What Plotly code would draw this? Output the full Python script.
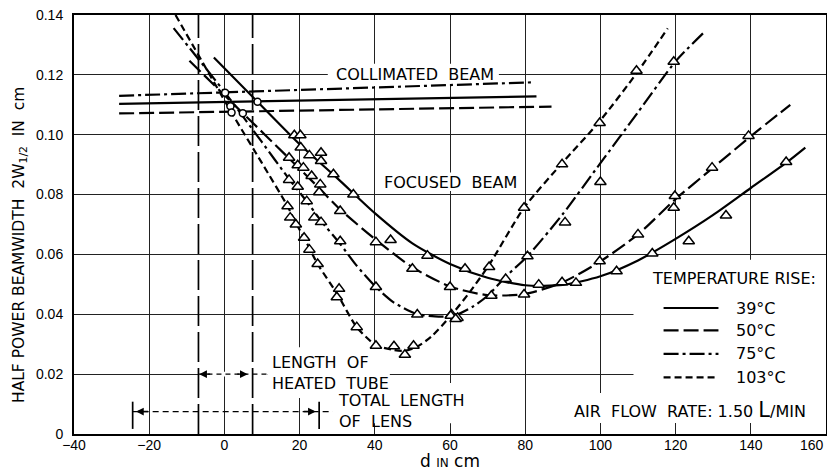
import plotly.graph_objects as go

# ---------------- data ----------------
x_ticks = [-40, -20, 0, 20, 40, 60, 80, 100, 120, 140, 160]
x_tick_labels = ["\u221240", "\u221220", "0", "20", "40", "60", "80", "100", "120", "140", ""]
x_last_label = "160"
y_ticks = [0, 0.02, 0.04, 0.06, 0.08, 0.10, 0.12, 0.14]
y_tick_labels = ["0", "0.02", "0.04", "0.06", "0.08", "0.10", "0.12", "0.14"]

# collimated beam lines
col_dashdot_x = [-28, 82]
col_dashdot_y = [0.1130, 0.1175]
col_solid_x = [-28, 83]
col_solid_y = [0.1103, 0.1128]
col_dash_x = [-28, 87]
col_dash_y = [0.1071, 0.1094]

# lens exit points (circles)
circ_x = [0.2, 1.6, 1.9, 4.9, 8.8]
circ_y = [0.1140, 0.1095, 0.1074, 0.1072, 0.1110]

# 39 C (solid)
c39_x = [-2.8, 8.8, 20, 30, 40, 50, 60, 70, 80, 90, 100, 110, 120, 130, 140, 150, 154.5]
c39_y = [0.1258, 0.1110, 0.0968, 0.0855, 0.0738, 0.0637, 0.0568, 0.0522, 0.0497, 0.0498,
         0.0527, 0.0580, 0.0652, 0.0732, 0.0822, 0.0912, 0.0957]
t39_x = [18.6, 20.2, 20.3, 22.6, 25.7, 25.7, 29.0, 34.3, 54.0, 64.0, 83.6, 93.5, 104.3,
         113.8, 123.5, 133.4, 149.4]
t39_y = [0.0998, 0.0998, 0.0957, 0.0931, 0.0940, 0.0912, 0.0868, 0.0800, 0.0596, 0.0552,
         0.0499, 0.0505, 0.0544, 0.0603, 0.0644, 0.0730, 0.0909]

# 50 C (long dash)
c50_x = [-9.3, 4.9, 17.2, 25.0, 30.8, 40.0, 50.0, 60.0, 70.0, 80.0, 90.0, 100.0, 110.0,
         120.0, 130.0, 140.0, 150.5]
c50_y = [0.1247, 0.1072, 0.0921, 0.0824, 0.0750, 0.0652, 0.0557, 0.0493, 0.0464, 0.0468,
         0.0507, 0.0577, 0.0667, 0.0785, 0.0890, 0.0995, 0.1100]
t50_x = [17.2, 19.5, 21.0, 23.2, 25.5, 25.2, 30.8, 40.3, 44.2, 50.0, 60.0, 71.0, 79.7,
         89.8, 99.8, 110.0, 119.5, 119.8, 129.7, 139.4]
t50_y = [0.0923, 0.0898, 0.0890, 0.0862, 0.0834, 0.0808, 0.0745, 0.0641, 0.0648, 0.0552,
         0.0491, 0.0462, 0.0466, 0.0507, 0.0577, 0.0667, 0.0756, 0.0795, 0.0890, 0.0996]

# 75 C (dash-dot)
c75_x = [-13.5, 0.2, 10.0, 17.2, 21.9, 25.7, 30.8, 35.0, 40.3, 45.0, 51.0, 56.0, 61.0,
         66.0, 70.0, 75.0, 80.6, 90.0, 100.0, 110.0, 120.0, 127.3]
c75_y = [0.1356, 0.1140, 0.0975, 0.0852, 0.0777, 0.0712, 0.0635, 0.0565, 0.0491, 0.0440,
         0.0402, 0.0393, 0.0395, 0.0425, 0.0462, 0.0528, 0.0594, 0.0735, 0.0905, 0.1075,
         0.1245, 0.1339]
t75_x = [17.2, 19.5, 21.9, 23.9, 25.7, 30.8, 40.3, 51.3, 60.4, 62.0, 74.8, 80.6, 90.6,
         100.0, 119.5]
t75_y = [0.0849, 0.0826, 0.0778, 0.0723, 0.0708, 0.0644, 0.0491, 0.0399, 0.0399, 0.0388,
         0.0518, 0.0594, 0.0707, 0.0842, 0.1244]

# 103 C (short dash)
c103_x = [-13.0, 1.9, 10.0, 16.8, 19.0, 21.2, 24.8, 30.0, 35.2, 40.3, 45.0, 48.0, 51.0,
          55.0, 60.2, 65.0, 70.4, 79.7, 89.8, 99.8, 109.6, 117.9]
c103_y = [0.1400, 0.1074, 0.0905, 0.0761, 0.0705, 0.0656, 0.0568, 0.0468, 0.0357, 0.0297,
          0.0281, 0.0278, 0.0290, 0.0325, 0.0395, 0.0470, 0.0565, 0.0756, 0.0905, 0.1045,
          0.1205, 0.1355]
t103_x = [16.8, 17.5, 19.0, 21.2, 22.6, 24.8, 30.5, 29.9, 35.2, 40.3, 45.1, 48.0, 50.3,
          60.2, 61.5, 70.4, 79.7, 89.8, 99.8, 109.6]
t103_y = [0.0761, 0.0723, 0.0700, 0.0656, 0.0616, 0.0568, 0.0485, 0.0457, 0.0357, 0.0295,
          0.0293, 0.0265, 0.0295, 0.0395, 0.0384, 0.0558, 0.0756, 0.0901, 0.1039, 0.1214]

# heated tube and lens extents (cm)
heated_tube = [-6.9, 7.5]
lens = [-24.4, 25.2]

legend_labels = ["39\u00b0C", "50\u00b0C", "75\u00b0C", "103\u00b0C"]
legend_rows = [0.0421, 0.0346, 0.0268, 0.0189]

# ---------------- styles ----------------
FONT = "DejaVu Sans"
TICKFONT = "Liberation Sans"
TS = 16
DASH_39 = "solid"
DASH_50 = "15px,5px"
DASH_75 = "15px,4px,3px,4px"
DASH_103 = "7px,4px"

fig = go.Figure()


def add_line(x, y, dash, width=2.2, spline=True):
    fig.add_trace(go.Scatter(
        x=x, y=y, mode="lines",
        line=dict(color="black", width=width, dash=dash,
                  shape="spline" if spline else "linear", smoothing=0.7),
        hoverinfo="skip", showlegend=False))


def add_markers(x, y, symbol, size):
    fig.add_trace(go.Scatter(
        x=x, y=y, mode="markers",
        marker=dict(symbol=symbol, size=size, color="white",
                    line=dict(color="black", width=1.5)),
        hoverinfo="skip", showlegend=False))


# heated tube boundaries (full-height long-dash verticals)
for xv in heated_tube:
    add_line([xv, xv], [0, 0.14], "30px,6px", width=1.7, spline=False)

# lens boundary bars
for xv in lens:
    add_line([xv, xv], [0.0017, 0.0108], "solid", width=1.7, spline=False)

# dimension lines
add_line([heated_tube[0], 11.5], [0.02, 0.02], "5px,4px", width=1.3, spline=False)
add_line([lens[0], 28.8], [0.0075, 0.0075], "6px,4px", width=1.3, spline=False)

# collimated beam
add_line(col_dashdot_x, col_dashdot_y, DASH_75, spline=False)
add_line(col_solid_x, col_solid_y, DASH_39, spline=False)
add_line(col_dash_x, col_dash_y, DASH_50, spline=False)

# focused beam curves
add_line(c39_x, c39_y, DASH_39)
add_line(c50_x, c50_y, DASH_50)
add_line(c75_x, c75_y, DASH_75)
add_line(c103_x, c103_y, DASH_103)

# markers
add_markers(t39_x, t39_y, "triangle-up", 10)
add_markers(t50_x, t50_y, "triangle-up", 10)
add_markers(t75_x, t75_y, "triangle-up", 10)
add_markers(t103_x, t103_y, "triangle-up", 10)
add_markers(circ_x, circ_y, "circle", 7)

# legend samples
for dash, yrow in zip([DASH_39, DASH_50, DASH_75, DASH_103], legend_rows):
    add_line([116.8, 131.4], [yrow, yrow], dash, spline=False)

annotations = []


def text(x, y, s, xanchor="center", size=TS, align="center"):
    annotations.append(dict(x=x, y=y, xref="x", yref="y", text=s, showarrow=False,
                            xanchor=xanchor, yanchor="middle", align=align,
                            font=dict(family=FONT, size=size, color="black")))


text(50.6, 0.1200, "COLLIMATED&nbsp;&nbsp;BEAM")
text(60.2, 0.0842, "FOCUSED&nbsp;&nbsp;BEAM")
text(12.2, 0.0203, "LENGTH&nbsp;&nbsp;OF<br>HEATED&nbsp;&nbsp;TUBE", xanchor="left", align="left")
text(29.8, 0.0076, "TOTAL&nbsp;&nbsp;LENGTH<br>OF&nbsp;&nbsp;LENS", xanchor="left", align="left")
text(135.6, 0.0518, "TEMPERATURE&nbsp;RISE:")
for yrow, lab in zip(legend_rows, legend_labels):
    text(135.4, yrow, lab, xanchor="left")
text(123.7, 0.0080, "AIR&nbsp;&nbsp;FLOW&nbsp;&nbsp;RATE:&nbsp;1.50&nbsp;<span style='font-size:21px'>L</span>/MIN")


# arrowheads
def arrowhead(tip, base, y):
    annotations.append(dict(x=tip, y=y, ax=base, ay=y, xref="x", yref="y", axref="x", ayref="y",
                            text="", showarrow=True, arrowhead=2, arrowsize=1.1,
                            arrowwidth=1.4, arrowcolor="black", standoff=0))


arrowhead(heated_tube[0] + 0.2, heated_tube[0] + 3.5, 0.02)
arrowhead(heated_tube[1] - 1.3, heated_tube[1] - 4.5, 0.02)
arrowhead(lens[0] + 0.9, lens[0] + 4.5, 0.0075)
arrowhead(lens[1] - 0.9, lens[1] - 4.5, 0.0075)

# axis titles
annotations.append(dict(x=-0.087, y=0.45, xref="paper", yref="paper", showarrow=False,
                        text="HALF&nbsp;POWER&nbsp;BEAMWIDTH&nbsp;&nbsp;2W<sub>1/2</sub>&nbsp;&nbsp;IN&nbsp;&nbsp;cm",
                        textangle=-90, font=dict(family=FONT, size=15.5, color="black")))
annotations.append(dict(x=0.5, y=-0.036, xref="paper", yref="paper", showarrow=False,
                        yanchor="top",
                        text="d <span style='font-size:12px'>IN</span> cm",
                        font=dict(family=FONT, size=17, color="black")))
annotations.append(dict(x=1.0, y=-0.027, xref="paper", yref="paper", showarrow=False,
                        xanchor="right", yanchor="middle", text=x_last_label,
                        font=dict(family=TICKFONT, size=14, color="black")))

# white masks over the grid where text/legend sits
masks = [
    (27.5, 73.0, 0.1163, 0.1237),
    (41.5, 79.0, 0.0812, 0.0874),
    (11.5, 44.0, 0.0120, 0.0290),
    (heated_tube[0], 11.5, 0.0192, 0.0208),
    (29.0, 64.0, 0.0036, 0.0170),
    (108.8, 160.0, 0.0037, 0.0582),
    (91.5, 160.0, 0.0037, 0.0137),
]
shapes = [dict(type="rect", xref="x", yref="y", x0=a, x1=b, y0=c, y1=d,
               fillcolor="white", line=dict(width=0), layer="between") for a, b, c, d in masks]

fig.update_layout(
    width=827, height=470,
    margin=dict(l=74, r=1, t=15, b=36, autoexpand=False),
    paper_bgcolor="white", plot_bgcolor="white",
    annotations=annotations, shapes=shapes,
    font=dict(family=FONT, size=TS, color="black"),
    xaxis=dict(range=[-40, 160], tickvals=x_ticks, ticktext=x_tick_labels, automargin=False,
               showgrid=True, gridcolor="#222", gridwidth=1, zeroline=False,
               showline=True, linecolor="black", linewidth=2, mirror=True,
               ticks="", ticklabelstandoff=-3,
               tickfont=dict(family=TICKFONT, size=14, color="black")),
    yaxis=dict(range=[0, 0.14], tickvals=y_ticks, ticktext=y_tick_labels, automargin=False,
               showgrid=True, gridcolor="#222", gridwidth=1, zeroline=False,
               showline=True, linecolor="black", linewidth=2, mirror=True,
               ticks="", ticklabelstandoff=6,
               tickfont=dict(family=TICKFONT, size=14, color="black")),
)

fig.write_html("out.html")
